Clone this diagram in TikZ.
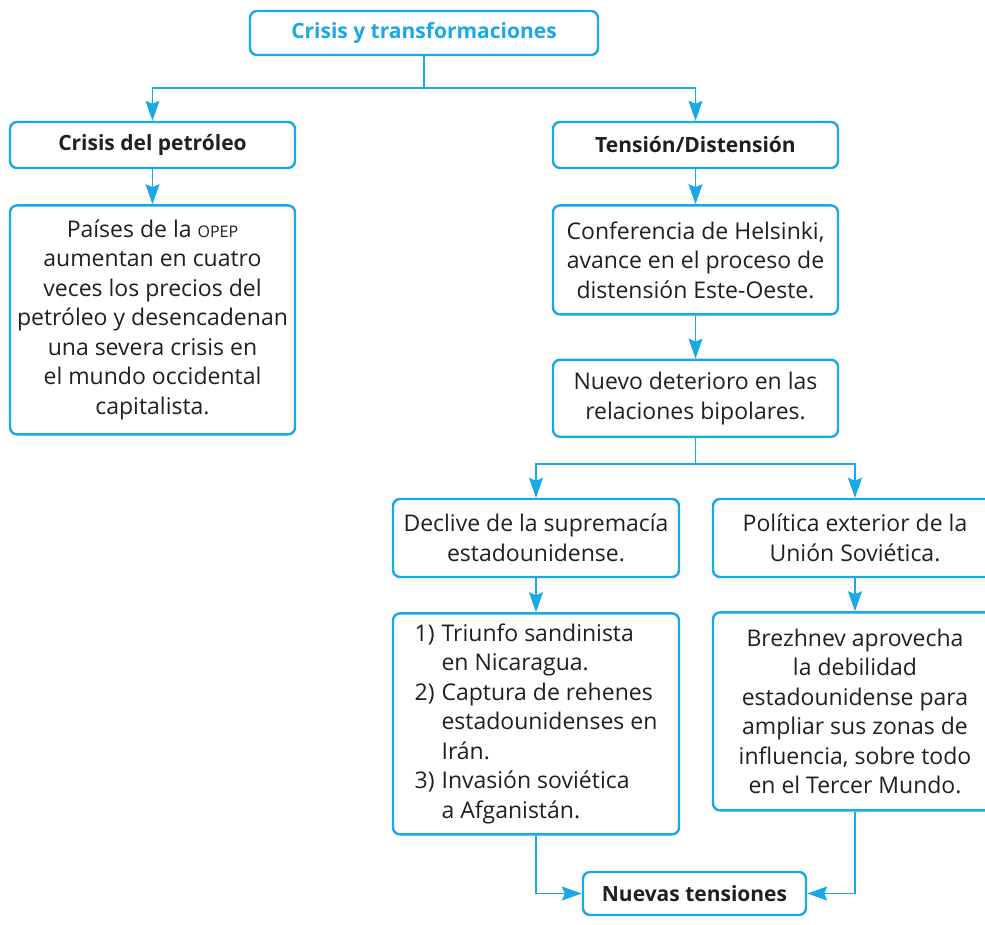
\documentclass[tikz,border=0pt]{standalone}
\usepackage{fontspec}
\setmainfont{Open Sans}
\usepackage{xcolor}
\usepackage{tikz}
\usetikzlibrary{arrows.meta, positioning}
\definecolor{cyanline}{HTML}{1AA8E6}
\definecolor{ink}{HTML}{231F20}

\begin{document}
\begin{tikzpicture}[
  x=1pt, y=-1pt,
  box/.style={draw=cyanline, line width=2.4pt, rounded corners=7pt, fill=white, align=center, text=ink, inner sep=0pt,
    font=\fontsize{23}{29.5}\selectfont},
  hdr/.style={box, minimum width=285pt, minimum height=46pt, font=\fontsize{21}{25}\selectfont\bfseries},
  arr/.style={-{Stealth[length=20pt, width=14pt, inset=3pt]}, color=cyanline, line width=1.3pt},
]
\useasboundingbox (0,0) rectangle (985,924);

\node[hdr, minimum width=348pt, minimum height=44pt, text=cyanline] (title) at (424,33) {Crisis y transformaciones};

% left branch
\node[hdr] (petro) at (152.5,145) {Crisis del petróleo};
\node[box, minimum width=285pt, minimum height=229pt, below=35pt of petro] (opep)
  {Países de la {\fontsize{16}{16}\selectfont OPEP}\\aumentan en cuatro\\veces los precios del\\petróleo y desencadenan\\una severa crisis en\\el mundo occidental\\capitalista.};

% right branch
\node[hdr] (tension) at (695.5,145) {Tensión/Distensión};
\node[box, minimum width=285pt, minimum height=109pt, below=35pt of tension] (helsinki)
  {Conferencia de Helsinki,\\avance en el proceso de\\distensión Este-Oeste.};
\node[box, minimum width=285pt, minimum height=77pt, below=43pt of helsinki] (nuevo)
  {Nuevo deterioro en las\\relaciones bipolares.};

\node[box, minimum width=286pt, minimum height=78pt] (declive) at (536,538)
  {Declive de la supremacía\\estadounidense.};
\node[box, minimum width=284pt, minimum height=78pt] (politica) at (855,538)
  {Política exterior de la\\Unión Soviética.};

\node[box, minimum width=286pt, minimum height=221pt, below=34pt of declive] (lista)
  {\begin{tabular}{@{}r@{\hspace{7pt}}l@{}}
   1) & Triunfo sandinista\\
      & en Nicaragua.\\
   2) & Captura de rehenes\\
      & estadounidenses en\\
      & Irán.\\
   3) & Invasión soviética\\
      & a Afganistán.
   \end{tabular}};
\node[box, minimum width=284pt, minimum height=198pt, below=33pt of politica] (brezhnev)
  {Brezhnev aprovecha\\la debilidad\\estadounidense para\\ampliar sus zonas de\\influencia, sobre todo\\en el Tercer Mundo.};

\node[hdr, minimum width=223pt, minimum height=43pt] (nuevas) at (694.5,893.5) {Nuevas tensiones};

% connectors
\coordinate (split1) at (424,88);
\coordinate (split2) at (695.5,464);

\draw[arr] (title.south) -- (split1) -| (petro.north);
\draw[arr] (split1) -| (tension.north);
\draw[arr] (petro) -- (opep);
\draw[arr] (tension) -- (helsinki);
\draw[arr] (helsinki) -- (nuevo);
\draw[arr] (nuevo.south) -- (split2) -| (declive.north);
\draw[arr] (split2) -| (politica.north);
\draw[arr] (declive) -- (lista);
\draw[arr] (politica) -- (brezhnev);
\draw[arr] (lista.south) |- (nuevas.west);
\draw[arr] (brezhnev.south) |- (nuevas.east);

\end{tikzpicture}
\end{document}
